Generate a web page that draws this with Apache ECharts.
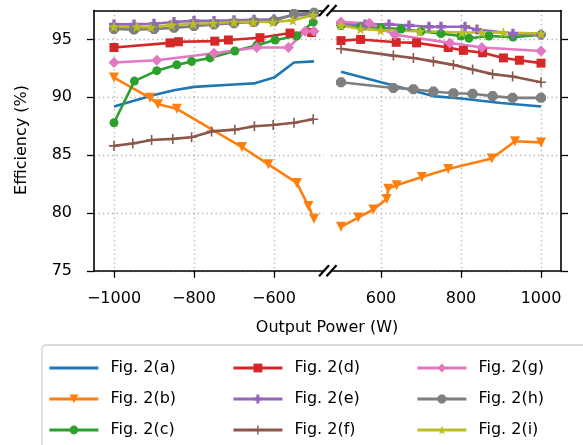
<!DOCTYPE html>
<html>
<head>
<meta charset="utf-8">
<script src="https://cdn.jsdelivr.net/npm/echarts@6/dist/echarts.min.js"></script>
<style>
html, body { margin: 0; padding: 0; background: #fff; }
#main { width: 583px; height: 445px; }
</style>
</head>
<body>
<div id="main"></div>
<script>
// series names and colours (matplotlib tab10)
var names = ['Fig. 2(a)', 'Fig. 2(b)', 'Fig. 2(c)', 'Fig. 2(d)', 'Fig. 2(e)', 'Fig. 2(f)', 'Fig. 2(g)', 'Fig. 2(h)', 'Fig. 2(i)'];
var colors = ['#1f77b4', '#ff7f0e', '#2ca02c', '#d62728', '#9467bd', '#8c564b', '#e377c2', '#7f7f7f', '#bcbd22'];

// [output power (W), efficiency (%)], negative side and positive side
var aNeg = [[-1000, 89.2], [-900, 90.2], [-850, 90.6], [-800, 90.9], [-700, 91.1], [-650, 91.2], [-600, 91.7], [-550, 93.0], [-500, 93.1]];
var aPos = [[500, 92.2], [600, 91.3], [700, 90.4], [730, 90.1], [800, 89.9], [900, 89.5], [1000, 89.2]];
var bNeg = [[-1000, 91.7], [-910, 89.95], [-890, 89.4], [-843, 89.0], [-680, 85.7], [-614, 84.2], [-543, 82.6], [-514, 80.6], [-500, 79.5]];
var bPos = [[500, 78.8], [543, 79.6], [581, 80.3], [614, 81.2], [618, 82.1], [639, 82.4], [702, 83.1], [768, 83.8], [877, 84.7], [935, 86.2], [1000, 86.1]];
var cNeg = [[-1000, 87.8], [-949, 91.4], [-893, 92.3], [-843, 92.8], [-806, 93.1], [-760, 93.4], [-698, 94.0], [-643, 94.5], [-597, 94.95], [-543, 95.3], [-502, 96.5]];
var cPos = [[500, 96.2], [550, 96.1], [600, 96.0], [650, 95.9], [700, 95.7], [750, 95.5], [800, 95.3], [820, 95.1], [870, 95.3], [930, 95.2], [1000, 95.4]];
var dNeg = [[-1000, 94.3], [-860, 94.7], [-839, 94.8], [-748, 94.85], [-714, 94.95], [-635, 95.15], [-560, 95.55], [-506, 95.6]];
var dPos = [[500, 94.9], [549, 95.0], [638, 94.75], [689, 94.7], [768, 94.3], [806, 94.05], [854, 93.85], [906, 93.4], [946, 93.2], [1000, 92.95]];
var eNeg = [[-1000, 96.3], [-950, 96.3], [-900, 96.35], [-850, 96.5], [-800, 96.6], [-750, 96.6], [-700, 96.65], [-650, 96.7], [-600, 96.75], [-550, 97.1], [-500, 97.1]];
var ePos = [[500, 96.3], [560, 96.3], [620, 96.3], [670, 96.2], [720, 96.1], [750, 96.1], [810, 96.1], [840, 95.85], [930, 95.5], [1000, 95.4]];
var fNeg = [[-1000, 85.8], [-953, 86.0], [-906, 86.3], [-853, 86.4], [-806, 86.55], [-756, 87.05], [-698, 87.2], [-649, 87.5], [-602, 87.6], [-550, 87.8], [-502, 88.1]];
var fPos = [[500, 94.2], [631, 93.6], [681, 93.4], [731, 93.1], [781, 92.8], [829, 92.4], [879, 92.0], [929, 91.8], [1000, 91.3]];
var gNeg = [[-1000, 93.0], [-893, 93.2], [-750, 93.8], [-643, 94.3], [-564, 94.3], [-522, 95.7], [-500, 95.7]];
var gPos = [[500, 96.5], [571, 96.4], [635, 95.4], [772, 94.7], [852, 94.3], [1000, 94.0]];
var hNeg = [[-1000, 95.9], [-950, 95.85], [-900, 95.9], [-850, 96.0], [-800, 96.15], [-750, 96.3], [-700, 96.4], [-650, 96.5], [-600, 96.6], [-550, 97.2], [-500, 97.3]];
var hPos = [[500, 91.3], [631, 90.8], [681, 90.7], [731, 90.5], [781, 90.35], [829, 90.3], [879, 90.1], [929, 89.95], [1000, 89.95]];
var iNeg = [[-1000, 96.1], [-943, 96.1], [-908, 96.05], [-856, 96.25], [-802, 96.35], [-752, 96.4], [-700, 96.5], [-652, 96.5], [-603, 96.5], [-553, 96.65], [-502, 97.1]];
var iPos = [[500, 96.2], [549, 95.9], [599, 95.8], [697, 95.7], [802, 95.6], [852, 95.6], [906, 95.6], [1000, 95.5]];

var negTicks = [-1000, -800, -600];
var posTicks = [600, 800, 1000];
var yTicks = [75, 80, 85, 90, 95];

var negData = [aNeg, bNeg, cNeg, dNeg, eNeg, fNeg, gNeg, hNeg, iNeg];
var posData = [aPos, bPos, cPos, dPos, ePos, fPos, gPos, hPos, iPos];

// marker shapes roughly like matplotlib's  none, v, o, s, P, +, D, 8, *
var symbols = [
    'none',
    'path://M0,0L10,0L5,9Z',
    'circle',
    'rect',
    'path://M3.3,0H6.7V3.3H10V6.7H6.7V10H3.3V6.7H0V3.3H3.3Z',
    'path://M4.2,0H5.8V4.2H10V5.8H5.8V10H4.2V5.8H0V4.2H4.2Z',
    'diamond',
    'path://M2.9,0H7.1L10,2.9V7.1L7.1,10H2.9L0,7.1V2.9Z',
    'path://M5,0L6.2,3.4L9.8,3.5L6.9,5.7L7.9,9.1L5,7.1L2.1,9.1L3.1,5.7L0.2,3.5L3.8,3.4Z'
];
var sizes = [0, 10, 9, 9, 10, 10, 11, 10, 11];

var FONT = 'DejaVu Sans';
var gridLine = { show: true, lineStyle: { color: '#b0b0b0', width: 1.3, type: [1.3, 3.2] } };
var spine = { show: true, lineStyle: { color: '#000', width: 1.6 } };

function minus(v) {
    return String(v).replace('-', '\u2212');
}

function xAx(grid, min, max, ticks, pos, deco) {
    return {
        type: 'value', gridIndex: grid, position: pos, min: min, max: max,
        axisLine: Object.assign({ onZero: false }, spine),
        axisTick: { show: !deco, length: 7, lineStyle: { color: '#000', width: 1.3 }, customValues: ticks },
        axisLabel: { show: !deco, customValues: ticks, margin: 20, color: '#000', fontSize: 16, fontFamily: FONT, formatter: minus },
        splitLine: deco ? { show: false } : gridLine
    };
}

function yAx(grid, pos, labels) {
    return {
        type: 'value', gridIndex: grid, position: pos, min: 75, max: 97.5,
        axisLine: Object.assign({ onZero: false }, spine),
        axisTick: { show: true, length: 7, lineStyle: { color: '#000', width: 1.3 }, customValues: yTicks },
        axisLabel: { show: labels, customValues: yTicks, margin: 22, color: '#000', fontSize: 16, fontFamily: FONT },
        splitLine: gridLine
    };
}

var series = [];
for (var k = 0; k < names.length; k++) {
    [negData[k], posData[k]].forEach(function (d, side) {
        series.push({
            type: 'line',
            name: names[k],
            xAxisIndex: side,
            yAxisIndex: side,
            data: d,
            symbol: symbols[k],
            symbolSize: sizes[k],
            showSymbol: k !== 0,
            color: colors[k],
            lineStyle: { width: 2.6 },
            itemStyle: { borderWidth: 0 },
            animation: false
        });
    });
}

function legendCol(left, items) {
    return {
        left: left, top: 360, orient: 'vertical', padding: 0,
        height: 84,
        itemWidth: 49, itemHeight: 11, itemGap: 15,
        data: items.map(function (n) {
            // plain line for the series without markers
            return n === names[0] ? { name: n, itemStyle: { opacity: 0 } } : { name: n };
        }),
        lineStyle: { width: 2.8 },
        textStyle: { fontSize: 16, fontFamily: FONT, color: '#000', padding: [0, 0, 0, 7] }
    };
}

// "//" marks of the broken axis
function brk(cx, cy) {
    return { type: 'line', shape: { x1: cx - 5, y1: cy + 5.5, x2: cx + 5, y2: cy - 5.5 }, style: { stroke: '#000', lineWidth: 2.2 }, z: 100 };
}

var option = {
    backgroundColor: '#fff',
    animation: false,
    grid: [
        { left: 94, top: 10.5, width: 230, height: 260.3, containLabel: false, outerBoundsMode: 'none' },
        { left: 331, top: 10.5, width: 230, height: 260.3, containLabel: false, outerBoundsMode: 'none' }
    ],
    xAxis: [
        xAx(0, -1050, -475, negTicks, 'bottom', false),
        xAx(1, 475, 1050, posTicks, 'bottom', false),
        xAx(0, -1050, -475, negTicks, 'top', true),
        xAx(1, 475, 1050, posTicks, 'top', true)
    ],
    yAxis: [yAx(0, 'left', true), yAx(1, 'right', false)],
    legend: [
        legendCol(48, names.slice(0, 3)),
        legendCol(232, names.slice(3, 6)),
        legendCol(416, names.slice(6, 9))
    ],
    graphic: [
        { type: 'rect', shape: { x: 42, y: 345, width: 560, height: 120, r: 4 }, style: { fill: 'rgba(255,255,255,0.8)', stroke: '#d0d0d0', lineWidth: 1.3 }, z: -1 },
        { type: 'text', x: 327, y: 328, style: { text: 'Output Power (W)', font: '16px "DejaVu Sans"', fill: '#000', align: 'center', verticalAlign: 'middle' } },
        { type: 'text', x: 22, y: 140, rotation: Math.PI / 2, style: { text: 'Efficiency (%)', font: '16px "DejaVu Sans"', fill: '#000', align: 'center', verticalAlign: 'middle' } },
        brk(324, 10.5), brk(331.5, 10.5), brk(324, 270.8), brk(331.5, 270.8)
    ],
    series: series
};

var myChart = echarts.init(document.getElementById('main'));
myChart.setOption(option);
</script>
</body>
</html>
